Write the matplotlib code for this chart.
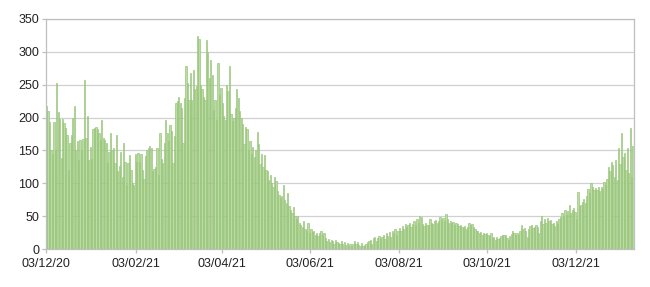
import numpy as np
import pandas as pd
import matplotlib
matplotlib.use("Agg")
import matplotlib.pyplot as plt
import matplotlib.dates as mdates

# daily values in chunks of ~2 months
dec_jan = [218, 210, 193, 150, 145, 193, 150, 252, 208, 198, 138, 198, 192, 184, 174, 120,
           161, 174, 200, 217, 151, 164, 136, 166, 150, 168, 257, 169, 202, 136, 155, 137,
           182, 184, 186, 182, 176, 166, 197, 169, 166, 162, 131, 148, 176, 151, 153, 131,
           174, 118, 126, 148, 110, 162, 133, 98, 131, 143, 120, 100, 97, 145]
feb_mar = [133, 146, 132, 144, 120, 106, 141, 150, 154, 156, 154, 118, 121, 125, 154, 113,
           177, 137, 131, 161, 197, 177, 165, 189, 179, 131, 172, 222, 225, 232, 222, 215,
           161, 230, 278, 253, 226, 268, 227, 273, 243, 248, 324, 319, 250, 243, 232, 227,
           318, 300, 260, 288, 265, 212, 227, 197, 283, 235, 245]
apr_may = [222, 202, 197, 250, 240, 278, 205, 195, 200, 215, 243, 230, 210, 200, 190, 160,
           185, 182, 150, 165, 145, 155, 140, 150, 178, 160, 130, 145, 125, 143, 120, 118,
           105, 112, 100, 95, 110, 103, 88, 82, 78, 80, 97, 75, 70, 85, 65, 60, 55, 64,
           50, 45, 50, 40, 36, 33, 42, 30, 28, 40, 25]
jun_jul = [30, 26, 28, 22, 25, 20, 24, 28, 22, 25, 16, 12, 15, 10, 13, 12, 8, 14, 10, 9,
           8, 12, 7, 10, 6, 9, 5, 8, 4, 7, 12, 8, 10, 6, 5, 9, 4, 6, 8, 10,
           12, 14, 8, 16, 18, 12, 17, 20, 15, 18, 22, 15, 24, 20, 26, 18, 28, 24, 30, 22, 27]
aug_sep = [32, 28, 35, 30, 38, 33, 36, 40, 34, 38, 42, 36, 45, 40, 50, 49, 38, 35, 40, 37,
           36, 45, 40, 38, 42, 44, 40, 43, 49, 44, 47, 42, 53, 45, 40, 42, 39, 41, 36, 40,
           38, 35, 37, 34, 32, 35, 30, 33, 39, 36, 38, 34, 30, 27, 28, 24, 26, 22, 25, 23, 24]
oct_nov = [22, 20, 24, 16, 19, 14, 18, 15, 17, 20, 22, 21, 22, 16, 14, 20, 23, 27, 24, 22,
           25, 22, 28, 37, 30, 32, 28, 19, 30, 35, 37, 32, 34, 36, 33, 24, 42, 50, 38, 45,
           40, 47, 42, 44, 38, 40, 35, 42, 38, 45, 48, 55, 50, 60, 52, 58, 67, 55, 60, 62, 57]
dec_jan2 = [45, 87, 65, 67, 72, 76, 70, 80, 92, 85, 100, 95, 90, 93, 90, 95, 88, 95, 92, 102,
            98, 107, 125, 118, 133, 128, 110, 135, 105, 153, 130, 176, 140, 146, 120, 153,
            115, 184, 110, 156]

start_date = "2020-12-03"
tick_dates = ["2020-12-03", "2021-02-03", "2021-04-03", "2021-06-03",
              "2021-08-03", "2021-10-03", "2021-12-03"]

values = np.array(dec_jan + feb_mar + apr_may + jun_jul + aug_sep + oct_nov + dec_jan2)
dates = pd.date_range(start_date, periods=len(values), freq="D")

plt.rcParams['font.family'] = ['Liberation Sans', 'DejaVu Sans']

fig = plt.figure(figsize=(6.5, 2.87), dpi=100)
ax = fig.add_axes([0.0708, 0.1324, 0.9045, 0.8016])

# light fill with darker green edges, like the spreadsheet export
ax.bar(dates, values, width=0.9, align='edge', color='#bcdca5',
       edgecolor='#93c273', linewidth=0.45, zorder=2)

ax.set_ylim(0, 350)
ax.set_yticks(np.arange(0, 351, 50))
ax.set_xlim(dates[0], dates[-1] + pd.Timedelta(days=1))
ax.set_xticks(pd.to_datetime(tick_dates))
ax.xaxis.set_major_formatter(mdates.DateFormatter('%d/%m/%y'))

ax.grid(axis='y', color='#d0d0d0', linewidth=0.9, zorder=0)
for s in ax.spines.values():
    s.set_color('#bfbfbf')
    s.set_linewidth(0.9)
ax.tick_params(axis='both', colors='#bfbfbf', labelcolor='#222222', labelsize=9, length=3, width=0.9)
ax.tick_params(axis='y', pad=2)

fig.savefig('out.png', dpi=100)
